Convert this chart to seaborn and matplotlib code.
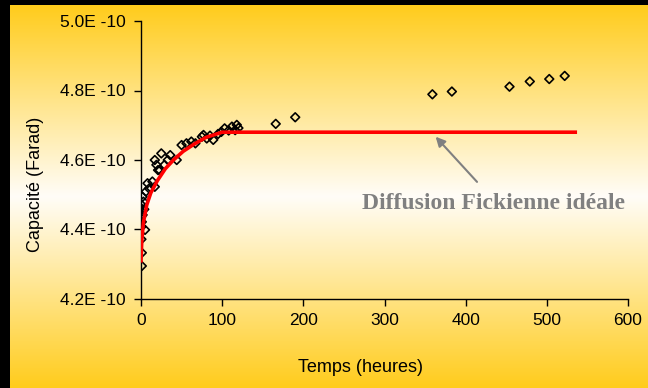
import numpy as np
import matplotlib
matplotlib.use("Agg")
import matplotlib.pyplot as plt
import seaborn as sns
import pandas as pd
from matplotlib.ticker import FuncFormatter, MultipleLocator

# measured capacitance (units of 1E-10 F)
t_meas = [1, 1, 0.5, 0.5, 5, 1, 0.3, 2, 1, 4, 1, 3, 2, 6, 10, 8, 14, 17, 21, 19,
          17, 25, 23, 29, 33, 36, 44, 50, 56, 62, 67, 75, 77, 81, 85, 89, 95, 99,
          103, 108, 112, 116, 118, 120, 166, 190, 359, 383, 454, 479, 503, 522]
c_meas = [4.295, 4.333, 4.372, 4.408, 4.399, 4.422, 4.437, 4.442, 4.451, 4.458,
          4.470, 4.480, 4.494, 4.509, 4.518, 4.533, 4.538, 4.523, 4.571, 4.586,
          4.600, 4.619, 4.571, 4.586, 4.600, 4.614, 4.600, 4.643, 4.648, 4.653,
          4.648, 4.667, 4.672, 4.662, 4.670, 4.658, 4.675, 4.681, 4.691, 4.685,
          4.696, 4.686, 4.701, 4.692, 4.704, 4.723, 4.789, 4.797, 4.811, 4.826,
          4.833, 4.842]

# ideal Fickian diffusion curve
t_fick = [0, 1, 3, 7, 12, 20, 30, 40, 52, 65, 80, 100, 535]
c_fick = [4.31, 4.37, 4.42, 4.47, 4.505, 4.54, 4.575, 4.60, 4.625, 4.645, 4.665, 4.68, 4.68]

x_ticks = [0, 100, 200, 300, 400, 500, 600]
y_ticks = [4.2, 4.4, 4.6, 4.8, 5.0]

W, H = 648, 388
fig = plt.figure(figsize=(W / 100, H / 100), dpi=100)
fig.patch.set_facecolor("black")

# gradient background (yellow - white - yellow)
bg = fig.add_axes([10 / W, 0, (W - 10) / W, (H - 5) / H], zorder=-10)
n = 400
yy = np.linspace(0, 1, n)
w = 1 - np.abs(yy - 0.5) * 2  # 0 at edges, 1 in middle
top = np.array([255, 204, 28]) / 255
mid = np.array([255, 253, 248]) / 255
grad = top[None, :] * (1 - w[:, None]) + mid[None, :] * w[:, None]
bg.imshow(grad[:, None, :], aspect="auto", extent=[0, 1, 0, 1])
bg.set_axis_off()

ax = fig.add_axes([141 / W, 1 - 299 / H, (628 - 141) / W, (299 - 21) / H])
ax.patch.set_alpha(0)

df_meas = pd.DataFrame({"t": t_meas, "c": c_meas})
df_fick = pd.DataFrame({"t": t_fick, "c": c_fick})

sns.scatterplot(data=df_meas, x="t", y="c", marker="D", s=20, facecolor="none",
                edgecolor="black", linewidth=1.2, ax=ax, zorder=3)
sns.lineplot(data=df_fick, x="t", y="c", color="#FF0000", linewidth=2.6,
             sort=False, estimator=None, ax=ax, zorder=4)

ax.set_xlim(0, 600)
ax.set_ylim(4.2, 5.0)
ax.set_xticks(x_ticks)
ax.set_yticks(y_ticks)
ax.yaxis.set_major_formatter(FuncFormatter(lambda v, p: f"{v:.1f}E -10"))
ax.xaxis.set_major_formatter(FuncFormatter(lambda v, p: f"{v:.0f}"))
for s in ["top", "right"]:
    ax.spines[s].set_visible(False)
for s in ["left", "bottom"]:
    ax.spines[s].set_color("black")
    ax.spines[s].set_linewidth(1.0)
ax.tick_params(direction="out", length=5, width=1.0, color="black",
               labelsize=12.5, labelcolor="black")
ax.tick_params(axis="y", pad=6)
ax.tick_params(axis="x", pad=5)
for lab in ax.get_xticklabels() + ax.get_yticklabels():
    lab.set_family(["Liberation Sans", "DejaVu Sans"])

ax.set_xlabel("Temps (heures)", fontsize=13, family=["Liberation Sans", "DejaVu Sans"])
ax.set_ylabel("Capacité (Farad)", fontsize=13, family=["Liberation Sans", "DejaVu Sans"])
ax.xaxis.label.set_va("center")
ax.yaxis.label.set_va("center")
ax.xaxis.set_label_coords((360 - 141) / 487, (299 - 368) / 278)
ax.yaxis.set_label_coords((35 - 141) / 487, (299 - 184) / 278)

ax.annotate("", xy=(363, 4.667), xytext=(414, 4.537),
            arrowprops=dict(arrowstyle="-|>", color="#808080", lw=1.5,
                            mutation_scale=14, shrinkA=0, shrinkB=0))
ax.text(434, 4.476, "Diffusion Fickienne idéale", ha="center", va="center",
        fontsize=17, fontweight="bold", color="#808080",
        family=["Liberation Serif", "DejaVu Serif"])

fig.savefig("out.png", dpi=100, facecolor=fig.get_facecolor())
